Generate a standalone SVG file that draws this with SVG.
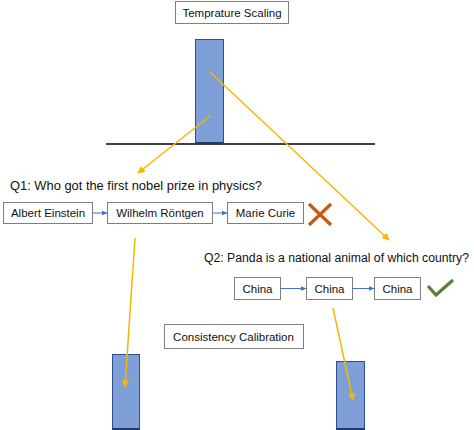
<svg xmlns="http://www.w3.org/2000/svg" width="474" height="430" viewBox="0 0 474 430">
<style>
text{font-family:"Liberation Sans",Arial,sans-serif;fill:#111;}
.lbl{font-size:11.5px;text-anchor:middle;}
.q{font-size:13.5px;}
.box{fill:#fff;stroke:#7f7f7f;stroke-width:1;}
.bar{fill:#7f9fd9;stroke:#2f4f8f;stroke-width:1;}
.org{stroke:#f5b800;stroke-width:1.5;fill:none;marker-end:url(#oa);}
.blu{stroke:#4472c4;stroke-width:1;fill:none;marker-end:url(#ba);}
</style>
<defs>
<marker id="oa" viewBox="0 0 10 10" refX="9" refY="5" markerWidth="5" markerHeight="5" orient="auto" markerUnits="strokeWidth"><path d="M0,0 L10,5 L0,10 z" fill="#f5b800"/></marker>
<marker id="ba" viewBox="0 0 10 10" refX="9" refY="5" markerWidth="6" markerHeight="6" orient="auto" markerUnits="strokeWidth"><path d="M0,1 L10,5 L0,9 z" fill="#4472c4"/></marker>
</defs>
<rect width="474" height="430" fill="#fff"/>

<g id="temp-scaling">
<rect class="box" x="175.5" y="1.5" width="113" height="22" stroke="#6f6f6f"/>
<text class="lbl" x="232" y="17">Temprature Scaling</text>
</g>

<g id="axis">
<line x1="106" y1="144" x2="375" y2="144" stroke="#000" stroke-width="1.3"/>
</g>

<g id="bar-top">
<rect class="bar" x="195.5" y="39.5" width="28" height="104"/>
<line x1="195.5" y1="143" x2="223.5" y2="143" stroke="#1f3a6e" stroke-width="2"/>
</g>

<g id="q1">
<text class="q" x="10" y="190" textLength="252" lengthAdjust="spacingAndGlyphs">Q1: Who got the first nobel prize in physics?</text>
</g>

<g id="q1-a1">
<rect class="box" x="3.5" y="202.5" width="89" height="21"/>
<text class="lbl" x="48" y="217">Albert Einstein</text>
</g>
<g id="q1-a2">
<rect class="box" x="107.5" y="202.5" width="105" height="21"/>
<text class="lbl" x="160" y="217">Wilhelm Röntgen</text>
</g>
<g id="q1-a3">
<rect class="box" x="227.5" y="202.5" width="76" height="21" stroke="#8b4a3c"/>
<text class="lbl" x="265.5" y="217">Marie Curie</text>
</g>
<g id="q1-wrong">
<path d="M309,204 L331,225 M331,204 L309,225" stroke="#c55a11" stroke-width="3.2" stroke-linecap="butt"/>
</g>

<g id="q2">
<text class="q" x="204" y="262" font-size="12.3" style="font-size:12.3px" textLength="265" lengthAdjust="spacingAndGlyphs">Q2: Panda is a national animal of which country?</text>
</g>

<g id="q2-a1">
<rect class="box" x="234.5" y="277.5" width="46" height="22"/>
<text class="lbl" x="257.5" y="293">China</text>
</g>
<g id="q2-a2">
<rect class="box" x="306.5" y="277.5" width="46" height="22"/>
<text class="lbl" x="329.5" y="293">China</text>
</g>
<g id="q2-a3">
<rect class="box" x="374.5" y="277.5" width="46" height="22" stroke="#548235"/>
<text class="lbl" x="397.5" y="293">China</text>
</g>
<g id="q2-right">
<path d="M428,286 L436,295 L453,280" stroke="#548235" stroke-width="3.2" fill="none"/>
</g>

<g id="consistency">
<rect class="box" x="164.5" y="324.5" width="139" height="24" stroke="#6f6f6f"/>
<text class="lbl" x="233.5" y="341">Consistency Calibration</text>
</g>

<g id="bar-left">
<rect class="bar" x="112.5" y="354.5" width="27" height="80"/>
<line x1="112.5" y1="429" x2="139.5" y2="429" stroke="#1f3a6e" stroke-width="2"/>
</g>
<g id="bar-right">
<rect class="bar" x="336.5" y="361.5" width="28" height="80"/>
<line x1="336.5" y1="429" x2="364.5" y2="429" stroke="#1f3a6e" stroke-width="2"/>
</g>

<g id="connectors">
<line class="blu" x1="92.5" y1="213" x2="107" y2="213"/>
<line class="blu" x1="212.5" y1="213" x2="227" y2="213"/>
<line class="blu" x1="280.5" y1="288.5" x2="306" y2="288.5"/>
<line class="blu" x1="352.5" y1="288.5" x2="374" y2="288.5"/>
<line class="org" x1="210" y1="116" x2="138" y2="173"/>
<line class="org" x1="210" y1="72" x2="389" y2="240"/>
<line class="org" x1="135" y1="238" x2="125" y2="387"/>
<line class="org" x1="333" y1="308" x2="353" y2="400"/>
</g>
</svg>
